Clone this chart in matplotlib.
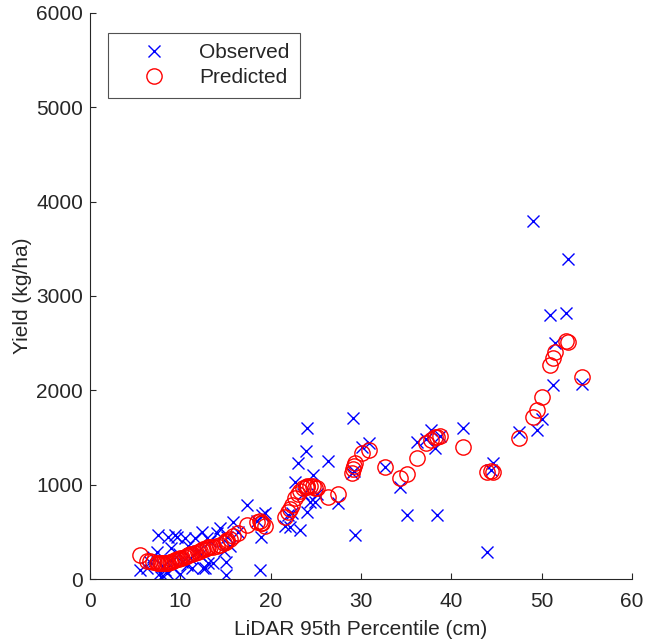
import matplotlib
matplotlib.use("Agg")
import matplotlib.pyplot as plt

# LiDAR 95th percentile canopy height (cm) for each plot
height_cm = [
    5.5, 6.3, 6.6, 7.0, 7.4, 7.5, 7.8, 7.9, 8.1, 8.3,
    8.5, 8.6, 8.8, 9.0, 9.2, 9.4, 9.6, 9.8, 10.0, 10.2,
    10.5, 10.7, 10.9, 11.1, 11.3, 11.6, 11.9, 12.2, 12.4, 12.5,
    12.7, 12.9, 13.1, 13.3, 13.6, 14.1, 14.4, 14.8, 15.0, 15.1,
    15.2, 15.5, 15.8, 16.4, 17.4, 18.5, 18.8, 18.9, 19.0, 19.4,
    21.6, 21.9, 22.1, 22.4, 22.7, 23.0, 23.2, 23.6, 23.9, 24.0,
    24.0, 24.3, 24.7, 24.9, 25.1, 26.3, 27.5, 29.0, 29.1, 29.2,
    29.3, 30.1, 30.9, 32.7, 34.3, 35.1, 36.2, 37.2, 37.7, 38.2,
    38.4, 38.8, 41.3, 44.0, 44.4, 44.6, 47.5, 49.0, 49.5, 50.0,
    50.9, 51.2, 51.5, 52.7, 52.9, 54.5,
]

# Measured yield (kg/ha)
observed = [
    100, 120, 180, 230, 290, 470, 60, 20, 140, 100,
    60, 445, 200, 330, 120, 470, 445, 260, 50, 180,
    430, 150, 350, 220, 120, 435, 300, 250, 500, 120,
    120, 440, 170, 400, 170, 490, 540, 300, 40, 180,
    450, 350, 600, 500, 780, 620, 100, 445, 680, 700,
    560, 680, 550, 700, 1030, 1230, 520, 900, 1360, 1600,
    710, 820, 1100, 815, 900, 1250, 810, 1120, 1710, 1150,
    470, 1400, 1440, 1190, 980, 680, 1450, 1480, 1580, 1390,
    680, 1520, 1600, 290, 1160, 1230, 1560, 3800, 1580, 1700,
    2800, 2060, 2500, 2820, 3390, 2070,
]

# Model-predicted yield (kg/ha)
predicted = [
    255, 195, 190, 180, 175, 172, 170, 168, 168, 168,
    170, 172, 178, 185, 192, 200, 208, 215, 220, 228,
    238, 245, 252, 262, 270, 280, 290, 300, 310, 315,
    322, 330, 335, 338, 342, 355, 365, 380, 390, 400,
    410, 425, 455, 490, 570, 605, 610, 595, 590, 560,
    660, 710, 740, 785, 860, 905, 930, 965, 975, 985,
    980, 990, 985, 970, 960, 870, 900, 1120, 1170, 1200,
    1230, 1335, 1365, 1190, 1075, 1115, 1280, 1440, 1475, 1505,
    1510, 1515, 1400, 1130, 1140, 1135, 1500, 1720, 1790, 1930,
    2270, 2340, 2410, 2525, 2510, 2140,
]

x_ticks = [0, 10, 20, 30, 40, 50, 60]
y_ticks = [0, 1000, 2000, 3000, 4000, 5000, 6000]

text_grey = (0.15, 0.15, 0.15)
plt.rcParams["font.family"] = ["Liberation Sans", "DejaVu Sans"]
fs = 15

fig = plt.figure(figsize=(6.49, 6.42), dpi=100)
ax = fig.add_axes([0.1387, 0.0981, 0.8351, 0.8817])

ax.plot(height_cm, observed, linestyle="none", marker="x", color="#0000ff",
        markersize=8.5, markeredgewidth=1.0, label="Observed")
ax.plot(height_cm, predicted, linestyle="none", marker="o", color="#ff0000",
        markerfacecolor="none", markersize=11, markeredgewidth=1.0,
        label="Predicted")

ax.set_xlim(0, 60)
ax.set_ylim(0, 6000)
ax.set_xticks(x_ticks)
ax.set_yticks(y_ticks)
ax.tick_params(direction="in", length=4, width=0.8, colors=text_grey,
               labelcolor=text_grey, labelsize=fs)
ax.tick_params(axis="x", pad=9)
ax.tick_params(axis="y", pad=5)
for side in ("top", "right"):
    ax.spines[side].set_visible(False)
for side in ("left", "bottom"):
    ax.spines[side].set_color(text_grey)
    ax.spines[side].set_linewidth(0.8)

ax.set_xlabel("LiDAR 95th Percentile (cm)", color=text_grey, fontsize=fs,
              labelpad=7)
ax.set_ylabel("Yield (kg/ha)", color=text_grey, fontsize=fs, labelpad=3)

leg = ax.legend(loc="upper left", bbox_to_anchor=(0.033, 0.965),
                fontsize=fs, frameon=True, fancybox=False, edgecolor=text_grey,
                handlelength=3.4, handletextpad=0.48, borderpad=0.5,
                labelspacing=0.3, borderaxespad=0.0)
leg.get_frame().set_linewidth(0.8)
for t in leg.get_texts():
    t.set_color(text_grey)

fig.savefig("out.png", dpi=100, facecolor="white")
